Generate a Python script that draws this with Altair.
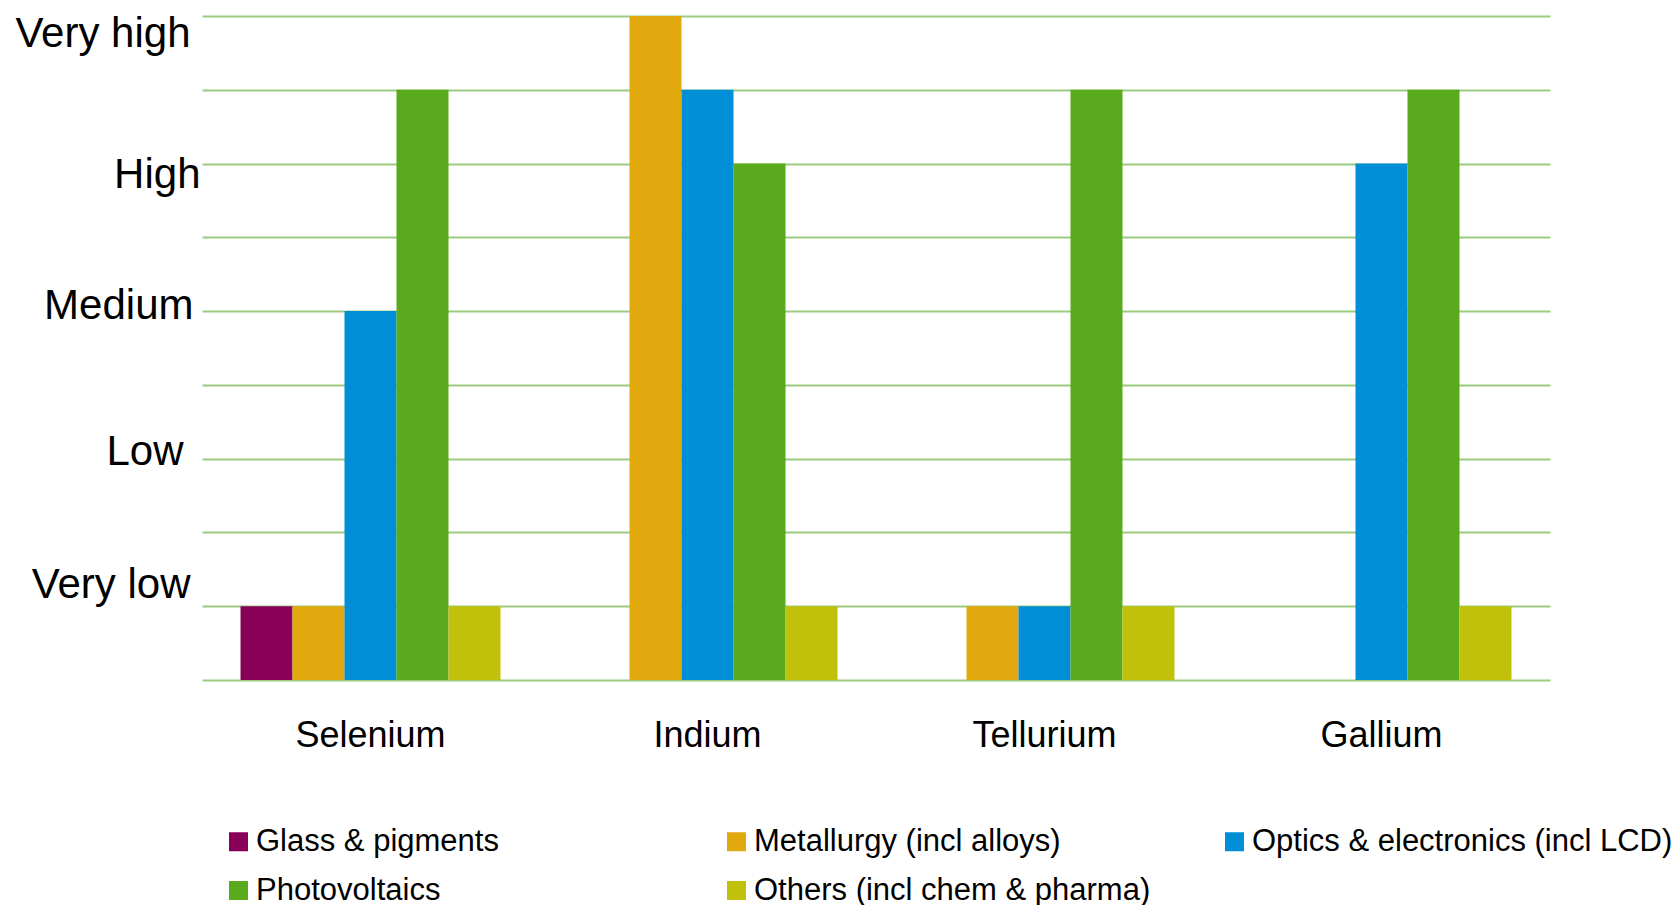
import altair as alt
import pandas as pd

metals = ["Selenium", "Indium", "Tellurium", "Gallium"]
uses = [
    "Glass & pigments",
    "Metallurgy (incl alloys)",
    "Optics & electronics (incl LCD)",
    "Photovoltaics",
    "Others (incl chem & pharma)",
]
colors = ["#880058", "#E1A90E", "#008ED6", "#59AA1D", "#C1C00A"]

# importance level: 1 = Very low ... 9 = Very high
glass = [1, 0, 0, 0]
metallurgy = [1, 9, 1, 0]
optics = [5, 8, 1, 7]
photovoltaics = [8, 7, 8, 8]
others = [1, 1, 1, 1]

level_values = [1, 3, 5, 7, 9]
level_labels = ["Very low", "Low", "Medium", "High", "Very high"]

series = [glass, metallurgy, optics, photovoltaics, others]
rows = []
for u, vals in zip(uses, series):
    for m, v in zip(metals, vals):
        rows.append({"metal": m, "use": u, "level": v})
df = pd.DataFrame(rows)

label_expr = " : ".join(
    f"datum.value == {v} ? '{l}'" for v, l in zip(level_values, level_labels)
) + " : ''"

FONT = "Liberation Sans"

chart = (
    alt.Chart(df)
    .mark_bar()
    .encode(
        x=alt.X(
            "metal:N",
            sort=metals,
            title=None,
            scale=alt.Scale(paddingInner=0.2285, paddingOuter=0.1143),
            axis=alt.Axis(
                labelAngle=0,
                labelFontSize=36,
                labelFont=FONT,
                labelColor="#000000",
                labelPadding=38,
                ticks=False,
                domain=False,
                grid=False,
            ),
        ),
        xOffset=alt.XOffset(
            "use:N", sort=uses, scale=alt.Scale(paddingInner=0, paddingOuter=0)
        ),
        y=alt.Y(
            "level:Q",
            title=None,
            scale=alt.Scale(domain=[0, 9], nice=False, zero=True),
            axis=alt.Axis(
                values=list(range(10)),
                labelExpr=label_expr,
                labelFontSize=42,
                labelFont=FONT,
                labelColor="#000000",
                labelBaseline="middle",
                labelPadding={
                    "condition": [
                        {"test": "datum.value == 9", "value": 12},
                        {"test": "datum.value == 7", "value": 2},
                        {"test": "datum.value == 5", "value": 9},
                        {"test": "datum.value == 3", "value": 19},
                    ],
                    "value": 12,
                },
                labelOffset={
                    "condition": [
                        {"test": "datum.value == 9", "value": 17},
                        {"test": "datum.value == 7", "value": 11},
                        {"test": "datum.value == 5", "value": -6},
                        {"test": "datum.value == 3", "value": -7},
                    ],
                    "value": -22,
                },
                ticks=False,
                domain=False,
                grid=True,
                gridColor="#9CCB7E",
                gridWidth=2,
                labelOverlap=False,
            ),
        ),
        color=alt.Color(
            "use:N",
            sort=uses,
            scale=alt.Scale(domain=uses, range=colors),
            legend=alt.Legend(
                title=None,
                orient="none",
                direction="horizontal",
                legendX=21,
                legendY=810,
                columns=3,
                gridAlign="all",
                columnPadding=44,
                rowPadding=17,
                symbolType="square",
                symbolSize=361,
                symbolStrokeWidth=0,
                labelFontSize=31,
                labelFont=FONT,
                labelColor="#000000",
                labelOffset=2,
                labelLimit=800,
            ),
        ),
    )
    .properties(
        width=1348,
        height=664,
        autosize=alt.AutoSizeParams(type="none"),
        padding={"left": 202, "top": 16, "right": 128, "bottom": 225},
    )
    .configure(background="#FFFFFF")
    .configure_view(stroke=None, strokeWidth=0)
    .configure_axisX(grid=False, domain=False, ticks=False)
)

chart.save("out.html", embed_options={"renderer": "svg", "actions": False})
